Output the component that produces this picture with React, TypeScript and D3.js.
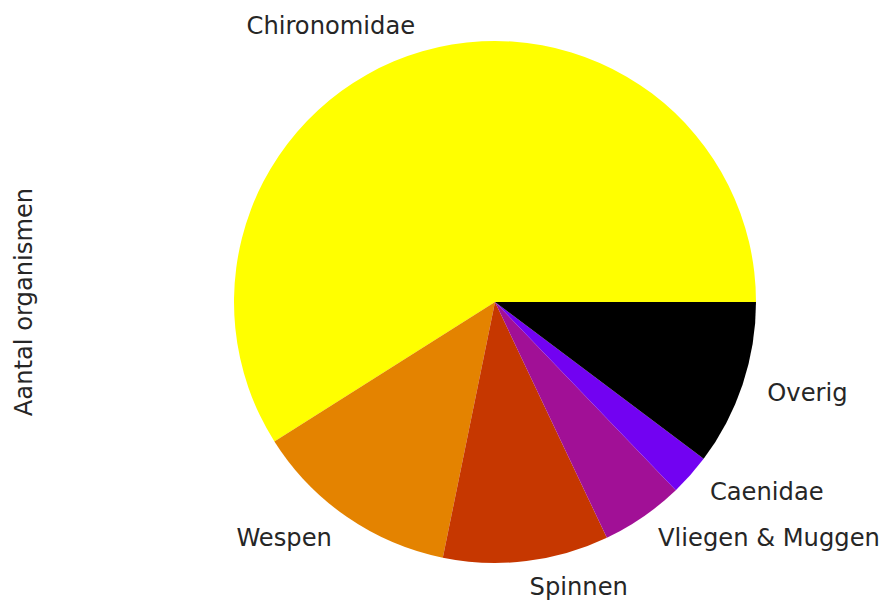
import React from "react";
import * as d3 from "d3";

const categories = ["Chironomidae", "Wespen", "Spinnen", "Vliegen & Muggen", "Caenidae", "Overig"];
const counts = [230, 50, 40, 20, 10, 40];
const colors = ["#ffff00", "#e48300", "#c63700", "#a11096", "#7202f2", "#000000"];
const yLabel = "Aantal organismen";

const W = 882;
const H = 603;
const cx = 495;
const cy = 302;
const R = 261;
const FONT = "'DejaVu Sans', sans-serif";
const FS = 24.2;

export default function App() {
  const pie = d3
    .pie<number>()
    .sort(null)
    .startAngle(Math.PI / 2)
    .endAngle(Math.PI / 2 - 2 * Math.PI);
  const arcs = pie(counts);
  const arcGen = d3.arc<d3.PieArcDatum<number>>().innerRadius(0).outerRadius(R);

  return (
    <svg
      width={W}
      height={H}
      style={{ position: "absolute", left: 0, top: 0, background: "#fff" }}
    >
      <g transform={`translate(${cx},${cy})`}>
        {arcs.map((a, i) => (
          <path key={i} d={arcGen(a) || ""} fill={colors[i]} />
        ))}
        {arcs.map((a, i) => {
          const mid = (a.startAngle + a.endAngle) / 2;
          const x = 1.1 * R * Math.sin(mid);
          const y = -1.1 * R * Math.cos(mid);
          return (
            <text
              key={"t" + i}
              x={x}
              y={y}
              textAnchor={x < 0 ? "end" : "start"}
              dominantBaseline="central"
              fontFamily={FONT}
              fontSize={FS}
              fill="#262626"
            >
              {categories[i]}
            </text>
          );
        })}
      </g>
      <text
        transform={`translate(24,${cy}) rotate(-90)`}
        textAnchor="middle"
        dominantBaseline="central"
        fontFamily={FONT}
        fontSize={FS}
        fill="#262626"
      >
        {yLabel}
      </text>
    </svg>
  );
}
